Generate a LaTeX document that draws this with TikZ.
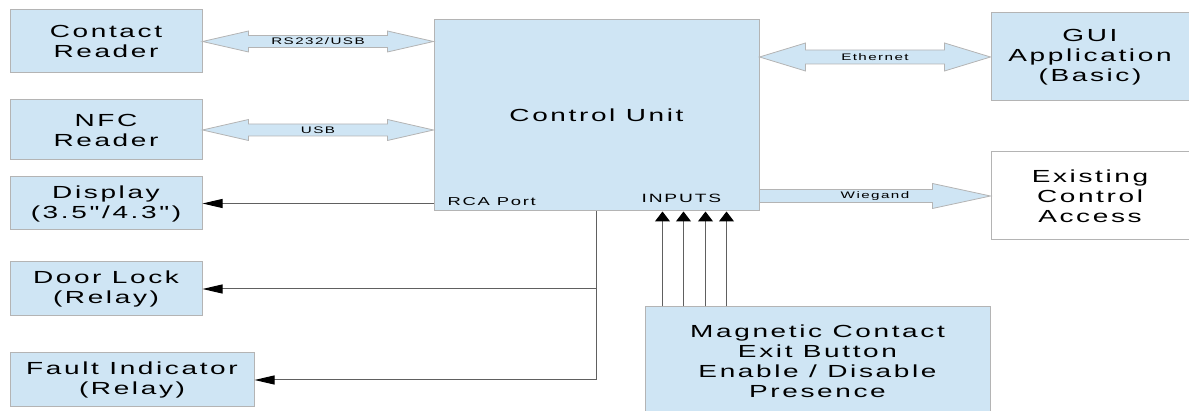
\documentclass[tikz,border=0pt]{standalone}
\usepackage{fontspec}
\setmainfont{Liberation Sans}[FakeStretch=1.6,LetterSpace=15,Ligatures=TeXOff]
\usetikzlibrary{calc}
\usetikzlibrary{arrows.meta}
\definecolor{boxblue}{HTML}{CFE5F4}
\definecolor{boxline}{HTML}{B4B4B4}
\definecolor{wirecol}{HTML}{606060}
\tikzset{unit/.style={rectangle, draw=boxline, fill=boxblue, line width=1pt, align=center,
   inner sep=0pt, font=\fontsize{17.5}{20}\selectfont}}
\tikzset{tag/.style={inner sep=0pt, font=\fontsize{9.5}{10}\selectfont}}
\tikzset{pipe/.style={draw=boxline, fill=boxblue, line width=0.8pt}}
\tikzset{wire/.style={draw=wirecol, line width=1pt}}
\tikzset{leftarrow/.style={wire, -{Triangle[length=20pt,width=9pt,color=black]}}}
\tikzset{uparrow/.style={wire, -{Triangle[length=10pt,width=15pt,color=black]}}}
% double block arrow: tip a, tip b, head length, head half width, shaft half width
\newcommand{\dblarrow}[5]{%
  \draw[pipe] (#1) -- ($(#1)+(#3,-#4)$) -- ($(#1)+(#3,-#5)$) -- ($(#2)+(-#3,-#5)$)
    -- ($(#2)+(-#3,-#4)$) -- (#2) -- ($(#2)+(-#3,#4)$) -- ($(#2)+(-#3,#5)$)
    -- ($(#1)+(#3,#5)$) -- ($(#1)+(#3,#4)$) -- cycle;}
% single block arrow: start a, tip b, head length, head half width, shaft half width
\newcommand{\onearrow}[5]{%
  \draw[pipe] ($(#1)+(0,-#5)$) -- ($(#2)+(-#3,-#5)$) -- ($(#2)+(-#3,-#4)$) -- (#2)
    -- ($(#2)+(-#3,#4)$) -- ($(#2)+(-#3,#5)$) -- ($(#1)+(0,#5)$) -- cycle;}

\begin{document}
\begin{tikzpicture}[x=1pt,y=-1pt]

    \useasboundingbox (0,0) rectangle (1189,411);

    % left column
    \node[unit, minimum width=192, minimum height=63] (cr) at (106,41.5) {Contact\\Reader};
    \node[unit, minimum width=192, minimum height=60] (nfc) at (106,130) {NFC\\Reader};
    \node[unit, minimum width=192, minimum height=53] (disp) at (106,203.5) {Display\\(3.5"/4.3")};
    \node[unit, minimum width=192, minimum height=54] (door) at (106,289) {Door Lock\\(Relay)};
    \node[unit, minimum width=244, minimum height=54] (fault) at (132,380) {Fault Indicator\\(Relay)};

    % centre and right
    \node[unit, minimum width=325, minimum height=191] (cu) at (596.5,115.5) {Control Unit};
    \node[unit, minimum width=198, minimum height=88] (gui) at (1090,57) {GUI\\Application\\(Basic)};
    \node[unit, fill=white, minimum width=198, minimum height=88] (eca) at (1090,196) {Existing\\Control\\Access};
    \node[unit, minimum width=345, minimum height=108] (mag) at (817.5,361)
        {Magnetic Contact\\Exit Button\\Enable / Disable\\Presence};

    \node[tag, font=\fontsize{11.5}{12}\selectfont, anchor=base west] (rca) at ($(cu.south west)+(14,-6)$) {RCA Port};
    \node[tag, font=\fontsize{12}{13}\selectfont, anchor=base west] (inp) at ($(cu.south west)+(208,-9)$) {INPUTS};

    % block arrows
    \coordinate (cuA) at (cu.west |- cr.east);
    \coordinate (cuB) at (cu.west |- nfc.east);
    \coordinate (cuC) at (cu.east |- gui.west);
    \coordinate (cuD) at (cu.east |- eca.west);
    \dblarrow{cr.east}{cuA}{46}{10.5}{6}
    \dblarrow{nfc.east}{cuB}{46}{10.5}{6}
    \dblarrow{cuC}{gui.west}{46}{14}{7}
    \onearrow{cuD}{eca.west}{58}{12.5}{6.5}
    \node[tag] (rs) at ($(cr.east)!0.5!(cuA)$) {RS232/USB};
    \node[tag] (usb) at ($(nfc.east)!0.5!(cuB)$) {USB};
    \node[tag] (eth) at ($(cuC)!0.5!(gui.west)$) {Ethernet};
    \node[tag] (wie) at ($(cuD)!0.5!(eca.west)$) {Wiegand};

    % outputs
    \draw[leftarrow] (cu.west |- disp.east) -- (disp.east);
    \coordinate (bus) at ($(cu.south west)+(163,0)$);
    \draw[leftarrow] (bus) |- (fault.east);
    \draw[leftarrow] (bus |- door.east) -- (door.east);

    % inputs
    \foreach \dx [count=\i] in {18,39,61,82} {
      \coordinate (in\i) at ($(mag.north west)+(\dx,0)$);
      \draw[uparrow] (in\i) -- (in\i |- cu.south);
    }

  \end{tikzpicture}
\end{document}
